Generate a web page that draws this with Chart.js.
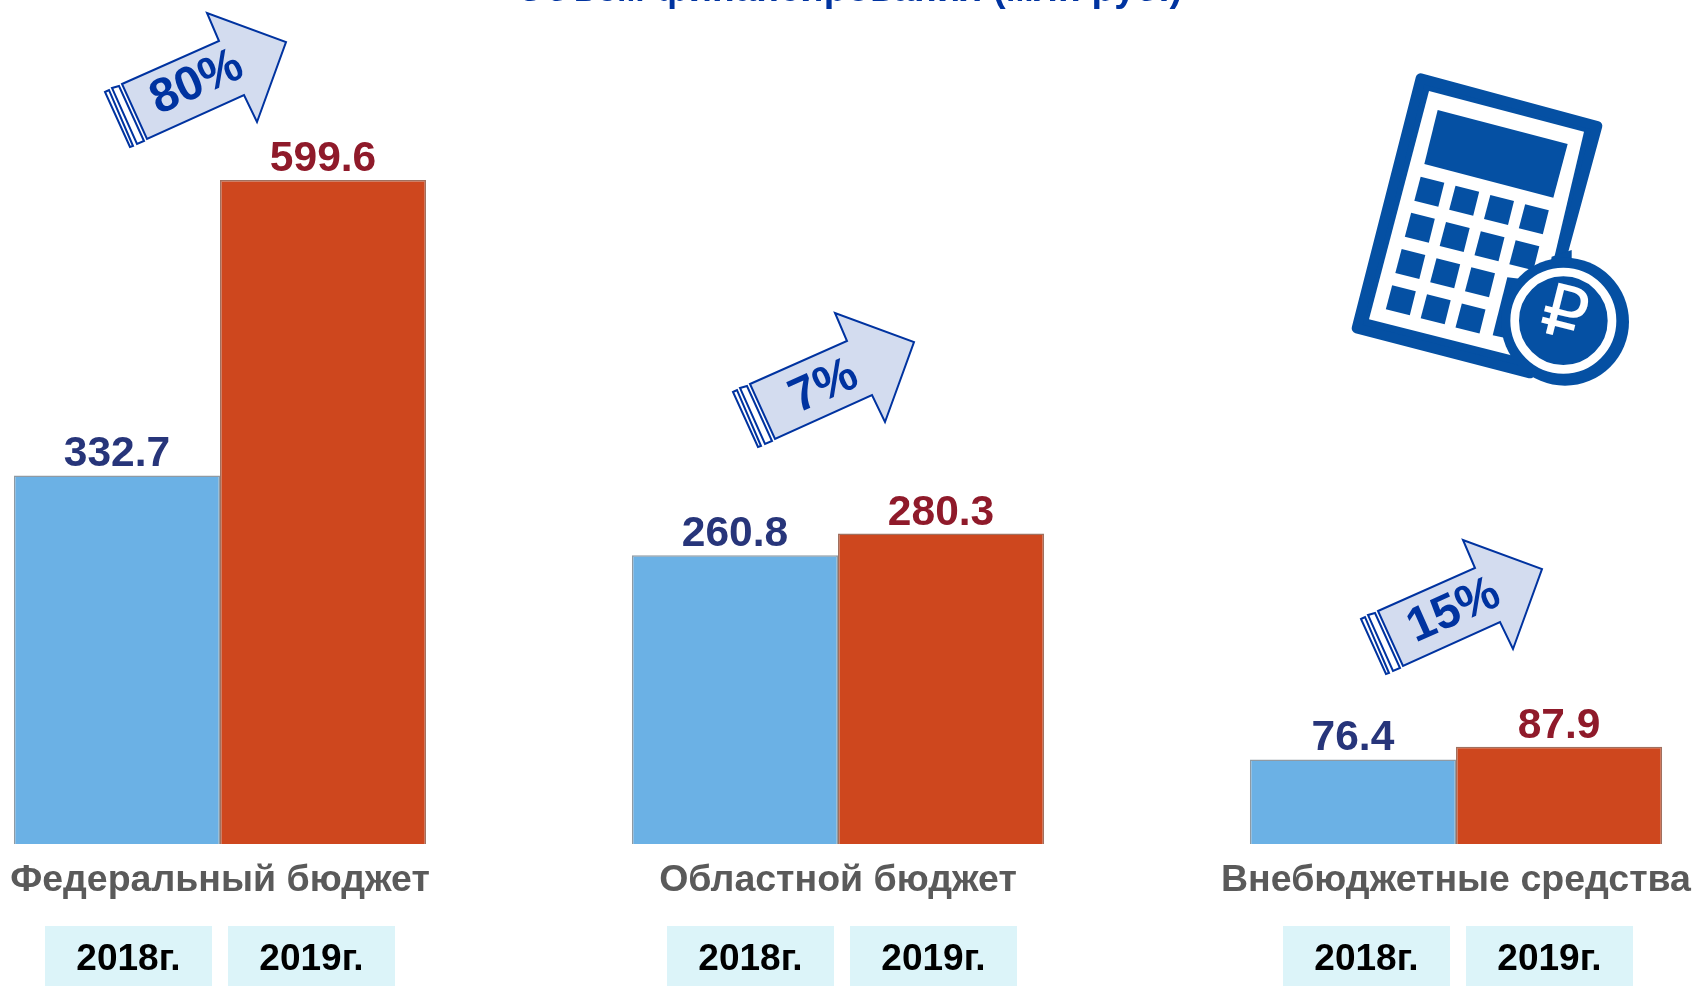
<!DOCTYPE html>
<html><head><meta charset="utf-8">
<style>html,body{margin:0;padding:0;background:#fff;overflow:hidden;width:1695px;height:986px}
canvas{position:absolute;left:-89px;top:0}</style>
<script src="https://cdn.jsdelivr.net/npm/chart.js@4"></script>
</head><body><canvas id="c" width="1854" height="986"></canvas>
<script>
const categories = ["Федеральный бюджет", "Областной бюджет", "Внебюджетные средства"];
const values2018 = [332.7, 260.8, 76.4];
const values2019 = [599.6, 280.3, 87.9];
const yearLabels = ["2018г.", "2019г."];
const growthLabels = ["80%", "7%", "15%"];
const titleText = "Объем финансирования (млн руб.)";
const rubleSign = "₽";

const OFFX = 89, BLUE = "#0033a0", FONT = "'Liberation Sans', Arial, sans-serif";

function poly(ctx, pts){ ctx.beginPath(); pts.forEach((p,i)=> i?ctx.lineTo(p[0],p[1]):ctx.moveTo(p[0],p[1])); ctx.closePath(); }

function drawArrow(ctx, dx, dy, label, tx, ty){
  ctx.save(); ctx.translate(dx+OFFX, dy);
  ctx.strokeStyle = BLUE; ctx.lineWidth = 2; ctx.lineJoin = "miter";
  ctx.fillStyle = "#d3dcef";
  poly(ctx, [[122,84],[219,41],[207,13],[286,42],[257,122],[244,95],[147,139]]); ctx.fill(); ctx.stroke();
  ctx.fillStyle = "#fff";
  poly(ctx, [[112,88],[119,86],[144,141],[137,144]]); ctx.fill(); ctx.stroke();
  poly(ctx, [[105,92],[109,90],[133,146],[130,147]]); ctx.fill(); ctx.stroke();
  ctx.translate(tx, ty); ctx.rotate(-24*Math.PI/180);
  ctx.fillStyle = BLUE; ctx.font = "bold 48px "+FONT; ctx.textAlign = "center"; ctx.textBaseline = "middle";
  ctx.fillText(label, 0, 0);
  ctx.restore();
}

function drawCalculator(ctx){
  const c = "#0550a3";
  ctx.save();
  ctx.translate(1300+OFFX, 50); ctx.scale(1/3, 1/3);
  ctx.fillStyle = c; ctx.strokeStyle = c; ctx.lineJoin = "round"; ctx.lineWidth = 30;
  poly(ctx, [[362,85],[892,228],[690,970],[170,835]]); ctx.fill(); ctx.stroke();
  ctx.fillStyle = "#fff";
  poly(ctx, [[387,123],[852,245],[690,930],[207,808]]); ctx.fill();
  ctx.fillStyle = c;
  poly(ctx, [[413,180],[803,282],[760,443],[373,342]]); ctx.fill();
  const counts = [4,4,3,3];
  counts.forEach((n,r)=>{
    for(let k=0;k<n;k++){
      const x = 362 + k*104.5 - r*28.5, y = 380 + k*27.5 + r*108.5;
      poly(ctx, [[x,y],[x+71,y+18],[x+53,y+90],[x-19,y+72]]); ctx.fill();
    }
  });
  poly(ctx, [[622,682],[690,690],[690,880],[578,856]]); ctx.fill();
  poly(ctx, [[755,620],[815,600],[815,640],[750,650]]); ctx.fill();
  ctx.beginPath(); ctx.arc(795,815,192,0,Math.PI*2); ctx.fill();
  ctx.strokeStyle = "#fff"; ctx.lineWidth = 26;
  ctx.beginPath(); ctx.arc(790,812,146,0,Math.PI*2); ctx.stroke();
  ctx.translate(790,805); ctx.rotate(14*Math.PI/180);
  ctx.fillStyle = "#fff"; ctx.font = "215px 'DejaVu Sans'"; ctx.textAlign="center"; ctx.textBaseline="middle";
  ctx.fillText(rubleSign, 0, 0);
  ctx.restore();
}

const decor = {
  id: "decor",
  afterDatasetsDraw(chart){
    const ctx = chart.ctx, xs = chart.scales.x;
    ctx.save();
    const cols = ["#27357a", "#8f1a2a"];
    chart.data.datasets.forEach((ds,i)=>{
      chart.getDatasetMeta(i).data.forEach((bar,j)=>{
        ctx.fillStyle = cols[i]; ctx.font = "bold 42.5px "+FONT; ctx.textAlign="center"; ctx.textBaseline="alphabetic";
        ctx.fillText(ds.data[j].toFixed(1), bar.x, bar.y-9);
      });
    });
    const boxShift = [0, 4, 2];
    categories.forEach((_,j)=>{
      const cx = xs.getPixelForValue(j) + boxShift[j];
      [[-175,yearLabels[0]],[8,yearLabels[1]]].forEach(([o,t])=>{
        ctx.fillStyle = "#dcf4f9"; ctx.fillRect(cx+o, 926, 167, 60);
        ctx.fillStyle = "#000"; ctx.font = "bold 37px "+FONT; ctx.textAlign="center"; ctx.textBaseline="middle";
        ctx.fillText(t, cx+o+83.5, 960);
      });
    });
    ctx.fillStyle = BLUE; ctx.font = "bold 38px "+FONT; ctx.textAlign="center"; ctx.textBaseline="alphabetic";
    ctx.fillText(titleText, 849+OFFX, 1);
    ctx.restore();
    drawArrow(ctx, 0, 0, growthLabels[0], 197, 83);
    drawArrow(ctx, 628, 300, growthLabels[1], 196, 87);
    drawArrow(ctx, 1256, 527, growthLabels[2], 198, 84);
    drawCalculator(ctx);
  }
};

new Chart(document.getElementById("c"), {
  type: "bar",
  data: { labels: categories, datasets: [
    { label: yearLabels[0], data: values2018, backgroundColor: "#6bb1e5", borderColor: "#8f9aa3", borderWidth: 1.5 },
    { label: yearLabels[1], data: values2019, backgroundColor: "#ce471e", borderColor: "#a0705f", borderWidth: 1.5 }
  ]},
  options: {
    responsive: false, animation: false, devicePixelRatio: 1,
    layout: { padding: 0 },
    categoryPercentage: 0.667, barPercentage: 1,
    plugins: { legend: { display: false }, tooltip: { enabled: false }, title: { display: false } },
    scales: {
      x: {
        grid: { display: false }, border: { display: false },
        ticks: { color: "#5a5a5a", font: { family: FONT, size: 37.5, weight: "bold" }, padding: 6, maxRotation: 0, autoSkip: false },
        afterFit(s){ s.height = 142; }
      },
      y: { display: false, min: 0, max: 762 }
    }
  },
  plugins: [decor]
});
</script></body></html>
